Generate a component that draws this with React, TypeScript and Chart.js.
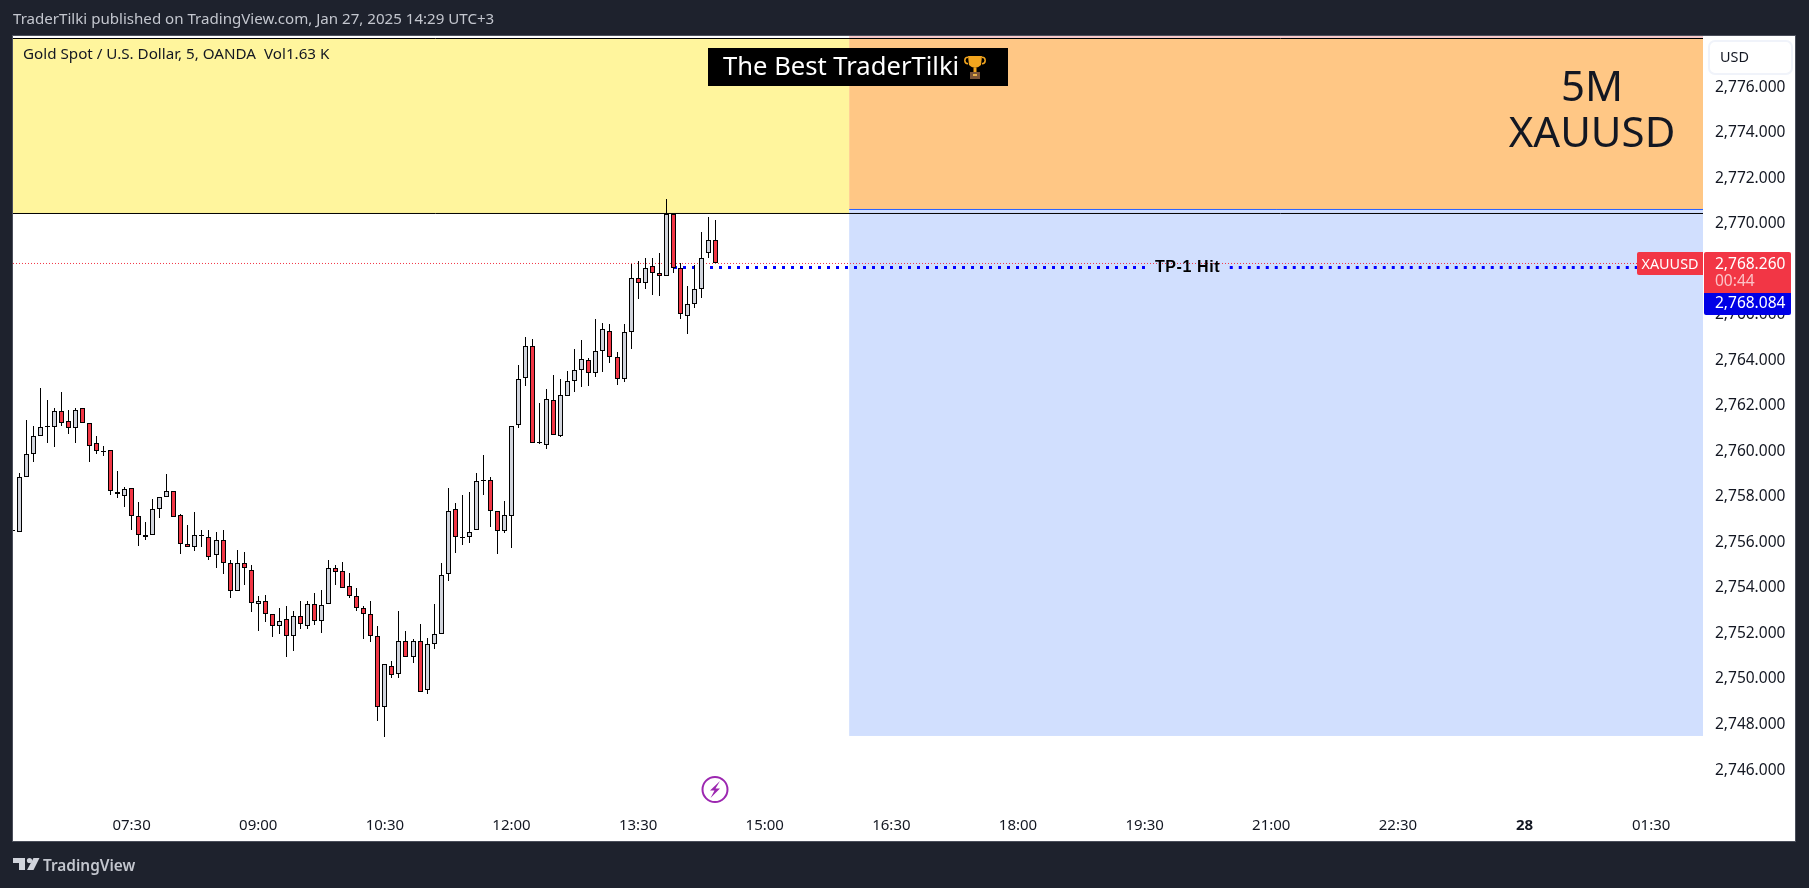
import React, { useEffect, useRef } from "react";
import { Chart, registerables } from "chart.js";

Chart.register(...registerables);

// 5-minute candles, the first one (06:05) is clipped by the left edge of the pane
const opens = [2756.53,
  2756.47,2758.90,2759.91,2760.66,2761.09,2761.09,2761.80,2761.36,2761.05,2761.89,
  2761.23,2760.39,2760.04,2760.08,2758.24,2758.06,2758.41,2757.18,2756.31,2756.31,
  2757.49,2757.98,2758.28,2757.23,2755.95,2755.82,2756.31,2756.26,2755.43,2756.13,
  2755.12,2753.89,2755.12,2754.81,2753.32,2753.45,2752.88,2752.35,2752.62,2751.91,
  2752.79,2752.35,2753.32,2752.53,2753.32,2754.90,2754.77,2754.07,2753.63,2753.14,
  2752.88,2751.91,2748.79,2750.59,2750.24,2751.69,2750.99,2751.69,2749.50,2751.52,
  2752.00,2754.63,2757.49,2756.26,2756.26,2756.56,2758.76,2758.76,2757.40,2756.52,
  2757.18,2761.18,2763.24,2764.65,2760.39,2760.30,2762.27,2760.69,2762.45,2763.11,
  2763.59,2764.03,2763.46,2764.43,2765.31,2764.16,2763.20,2765.27,2767.60,2767.42,
  2768.17,2767.82,2767.69,2770.43,2768.04,2765.97,2766.46,2767.12,2768.70,2769.31];
const closes = [2756.53,
  2758.90,2759.91,2760.70,2761.09,2761.14,2761.80,2761.27,2761.01,2761.84,2761.27,
  2760.26,2760.00,2760.04,2758.28,2758.15,2758.33,2757.18,2756.31,2756.22,2757.49,
  2757.98,2758.28,2757.10,2755.95,2755.82,2756.31,2756.31,2755.38,2756.09,2755.12,
  2753.89,2755.12,2754.86,2753.36,2753.41,2752.88,2752.35,2752.57,2751.91,2752.79,
  2752.44,2753.32,2752.53,2753.27,2754.90,2754.72,2754.02,2753.63,2753.14,2752.88,
  2751.91,2748.79,2750.64,2750.20,2751.69,2750.99,2751.69,2749.45,2751.52,2751.96,
  2754.59,2757.40,2756.26,2756.26,2756.47,2758.72,2758.76,2757.40,2756.52,2757.22,
  2761.13,2763.20,2764.65,2760.39,2760.43,2762.32,2760.74,2762.49,2763.11,2763.59,
  2764.08,2763.46,2764.43,2765.39,2764.16,2763.20,2765.26,2767.60,2767.42,2768.04,
  2767.82,2767.69,2770.43,2768.08,2766.02,2766.50,2767.12,2768.52,2769.31,2768.26];
const highs = [2756.60,
  2759.07,2761.40,2761.14,2762.81,2762.24,2761.89,2762.63,2761.84,2761.93,2761.89,
  2761.27,2760.66,2760.26,2760.08,2759.12,2758.46,2758.41,2757.80,2756.92,2757.93,
  2757.98,2758.99,2758.28,2757.27,2756.79,2757.32,2756.57,2756.57,2756.44,2756.53,
  2755.21,2755.65,2755.60,2755.03,2753.67,2753.71,2752.88,2753.14,2753.19,2752.97,
  2753.45,2753.41,2753.80,2753.93,2755.21,2755.03,2755.16,2754.64,2753.98,2753.23,
  2753.41,2752.31,2750.68,2750.81,2752.97,2752.09,2751.74,2752.40,2751.82,2753.32,
  2755.12,2758.41,2757.75,2758.10,2758.23,2759.07,2759.86,2758.89,2757.40,2757.84,
  2761.13,2763.81,2765.04,2764.95,2762.14,2762.76,2763.37,2763.20,2763.55,2764.52,
  2764.91,2764.12,2765.80,2765.66,2765.61,2764.38,2765.61,2768.23,2768.35,2768.48,
  2768.52,2768.74,2771.11,2770.43,2768.26,2767.29,2768.21,2769.66,2770.32,2770.15];
const lows = [2756.47,
  2756.47,2758.90,2759.54,2760.66,2760.38,2760.20,2761.12,2760.77,2760.38,2761.27,
  2759.54,2759.89,2759.81,2758.09,2757.96,2757.57,2756.55,2755.85,2756.12,2756.31,
  2757.08,2757.98,2757.10,2755.50,2755.82,2755.63,2755.81,2755.24,2754.89,2754.62,
  2753.57,2753.89,2754.15,2752.95,2752.09,2752.51,2751.85,2751.99,2750.98,2751.24,
  2752.21,2752.21,2752.38,2752.03,2753.32,2754.14,2754.02,2753.58,2753.00,2751.77,
  2751.63,2748.16,2747.46,2750.05,2750.05,2750.95,2750.71,2749.41,2749.35,2751.33,
  2752.00,2754.31,2755.55,2755.90,2755.98,2756.56,2758.10,2756.68,2755.51,2756.43,
  2755.77,2761.03,2762.89,2760.39,2760.34,2760.11,2760.74,2760.63,2762.45,2762.61,
  2762.83,2762.89,2763.27,2763.49,2763.90,2762.93,2763.05,2764.52,2766.69,2767.14,
  2766.88,2766.84,2767.69,2767.82,2765.83,2765.17,2766.31,2766.75,2768.51,2768.26];

// Bars are numbered from the 07:30 bar
const firstBar = -17;
const timeTickBars = [0, 18, 36, 54, 72, 90, 108, 126, 144, 162, 180, 198, 216];
const timeLabels = ["07:30", "09:00", "10:30", "12:00", "13:30", "15:00", "16:30", "18:00", "19:30", "21:00", "22:30", "28", "01:30"];
const priceTicks = [2746, 2748, 2750, 2752, 2754, 2756, 2758, 2760, 2762, 2764, 2766, 2768, 2770, 2772, 2774, 2776];

const barMin = -16.86;
const barMax = 223.37;
const priceMin = 2744.115;
const priceMax = 2778.255;

const lastPrice = 2768.26;
const targetPrice = 2768.084;
const zoneTop = 2778.145;
const zoneSplit = 2770.456;
const rewardEdge = 2770.632;
const zoneBottom = 2747.5;
const zoneStartBar = 102;
const targetLineStartBar = 77.1;
const targetGapFrom = 144.05;
const targetGapTo = 156.1;
const targetLineEndBar = 214;

const UI_FONT = '"Noto Sans", sans-serif';
const INK = "#131722";
const RED = "#f23645";

const bodyData = opens.map((o, i) => ({ x: firstBar + i, y: [o, closes[i]] }));
const wickData = lows.map((l, i) => ({ x: firstBar + i, y: [l, highs[i]] }));
const bodyColors = opens.map((o, i) => (closes[i] >= o ? "#d1d4dc" : RED));

function put(ctx: CanvasRenderingContext2D, s: string, x: number, y: number, font: string, color: string, align: CanvasTextAlign = "left", spacing = "0px") {
  ctx.save();
  ctx.font = font;
  ctx.fillStyle = color;
  ctx.textAlign = align;
  ctx.textBaseline = "middle";
  (ctx as any).letterSpacing = spacing;
  ctx.fillText(s, x, y);
  ctx.restore();
}

const snapBars = {
  id: "snapBars",
  afterDatasetUpdate(chart: any, args: any) {
    const meta = chart.getDatasetMeta(args.index);
    if (meta.type !== "bar") return;
    meta.data.forEach((el: any) => {
      el.x = Math.floor(el.x) + 0.5;
      el.y = Math.round(el.y);
      el.base = Math.round(el.base);
      if (el.y === el.base) el.base = el.y + 1;
    });
  },
};

const decor = {
  id: "decor",
  beforeDraw(chart: any) {
    const { ctx, width, height } = chart;
    ctx.save();
    ctx.fillStyle = "#1e222d";
    ctx.fillRect(0, 0, width, height);
    ctx.fillStyle = "#4a4e5a";
    ctx.fillRect(12, 35, 1784, 807);
    ctx.fillStyle = "#ffffff";
    ctx.fillRect(13, 36, 1782, 805);
    ctx.restore();
    put(ctx, "TraderTilki published on TradingView.com, Jan 27, 2025 14:29 UTC+3", 13, 20, `15.1px ${UI_FONT}`, "#c3c6ce");
  },
  beforeDatasetsDraw(chart: any) {
    const { ctx, scales: { x, y } } = chart;
    const zone = (a: number, b: number, top: number, bottom: number, color: string) => {
      ctx.fillStyle = color;
      ctx.fillRect(x.getPixelForValue(a), y.getPixelForValue(top), x.getPixelForValue(b) - x.getPixelForValue(a), y.getPixelForValue(bottom) - y.getPixelForValue(top));
    };
    ctx.save();
    zone(barMin, zoneStartBar, zoneTop, zoneSplit, "#fff59d");
    zone(zoneStartBar, barMax, priceMax, zoneTop, "#f7c9c9");
    zone(zoneStartBar, barMax, zoneTop, rewardEdge, "#ffc785");
    zone(zoneStartBar, barMax, rewardEdge, zoneBottom, "#d1dffe");
    ctx.restore();
  },
  afterDraw(chart: any) {
    const { ctx } = chart;
    ctx.save();
    // legend line
    put(ctx, "Gold Spot / U.S. Dollar, 5, OANDA  Vol1.63 K", 23, 55, `15.2px ${UI_FONT}`, INK);
    // banner
    ctx.fillStyle = "#000000";
    ctx.fillRect(708, 48, 300, 38);
    put(ctx, "The Best TraderTilki", 723, 68, `25.6px ${UI_FONT}`, "#ffffff");
    // trophy
    ctx.fillStyle = "#f2a51e";
    ctx.beginPath();
    ctx.moveTo(968, 56);
    ctx.lineTo(982, 56);
    ctx.lineTo(981, 65);
    ctx.quadraticCurveTo(975, 71, 969, 65);
    ctx.closePath();
    ctx.fill();
    ctx.strokeStyle = "#f2a51e";
    ctx.lineWidth = 1.5;
    ctx.beginPath();
    ctx.arc(968, 60.5, 3.2, 0.5 * Math.PI, 1.5 * Math.PI);
    ctx.stroke();
    ctx.beginPath();
    ctx.arc(982, 60.5, 3.2, -0.5 * Math.PI, 0.5 * Math.PI);
    ctx.stroke();
    ctx.fillRect(973.5, 68, 3, 4);
    ctx.fillStyle = "#7c5538";
    ctx.fillRect(970, 72, 10, 7);
    ctx.fillStyle = "#e8b24a";
    ctx.fillRect(973, 74, 4, 2);
    // big caption
    put(ctx, "5M", 1592, 89.5, `42px ${UI_FONT}`, "#131722", "center");
    put(ctx, "XAUUSD", 1592, 135, `42px ${UI_FONT}`, "#131722", "center");
    // target label
    put(ctx, "TP-1 Hit", 1187.5, 268, `600 16px "Liberation Sans", sans-serif`, "#000000", "center", "0.6px");
    // currency button
    ctx.fillStyle = "#ffffff";
    ctx.strokeStyle = "#f0f3fa";
    ctx.lineWidth = 2;
    ctx.beginPath();
    ctx.roundRect(1709, 41, 83, 33, 6);
    ctx.fill();
    ctx.stroke();
    put(ctx, "USD", 1720, 58, `14.4px ${UI_FONT}`, INK);
    // price tags
    ctx.fillStyle = RED;
    ctx.beginPath();
    ctx.roundRect(1637, 252, 66, 23, [2, 0, 0, 2]);
    ctx.fill();
    ctx.beginPath();
    ctx.roundRect(1704, 252, 87, 41, [2, 2, 0, 0]);
    ctx.fill();
    ctx.fillStyle = "#0000e6";
    ctx.beginPath();
    ctx.roundRect(1704, 293, 87, 22, [0, 0, 2, 2]);
    ctx.fill();
    put(ctx, "XAUUSD", 1670, 264.5, `14.4px ${UI_FONT}`, "#ffffff", "center");
    put(ctx, "2,768.260", 1715, 264.5, `15.5px ${UI_FONT}`, "#ffffff");
    put(ctx, "00:44", 1715, 281.5, `15.5px ${UI_FONT}`, "rgba(255,255,255,0.7)");
    put(ctx, "2,768.084", 1715, 304, `15.5px ${UI_FONT}`, "#ffffff");
    // flash marker
    ctx.strokeStyle = "#9c27b0";
    ctx.lineWidth = 2;
    ctx.beginPath();
    ctx.arc(715, 789.5, 12.5, 0, 2 * Math.PI);
    ctx.stroke();
    ctx.fillStyle = "#9c27b0";
    ctx.beginPath();
    ctx.moveTo(720, 781);
    ctx.lineTo(710, 790.5);
    ctx.lineTo(714.5, 790.5);
    ctx.lineTo(710.5, 798);
    ctx.lineTo(720, 788.5);
    ctx.lineTo(715.5, 788.5);
    ctx.closePath();
    ctx.fill();
    // brand
    ctx.fillStyle = "#d1d4dc";
    ctx.fillRect(13, 858, 12, 5);
    ctx.fillRect(19, 858, 6, 12);
    ctx.beginPath();
    ctx.arc(29.5, 860.5, 2.6, 0, 2 * Math.PI);
    ctx.fill();
    ctx.beginPath();
    ctx.moveTo(33.5, 858);
    ctx.lineTo(39.5, 858);
    ctx.lineTo(33.5, 870);
    ctx.lineTo(27, 870);
    ctx.closePath();
    ctx.fill();
    put(ctx, "TradingView", 43, 866.5, `600 15.4px ${UI_FONT}`, "#c3c6ce");
    ctx.restore();
  },
};

export default function App() {
  const ref = useRef<HTMLCanvasElement>(null);
  useEffect(() => {
    const chart = new Chart(ref.current!, {
      type: "bar",
      plugins: [snapBars, decor],
      data: {
        datasets: [
          { type: "bar", label: "Body", order: 0, data: bodyData as any, backgroundColor: bodyColors, borderColor: "#000000", borderWidth: 1, borderSkipped: false, barThickness: 5, grouped: false, inflateAmount: 0 },
          { type: "bar", label: "Wick", order: 1, data: wickData as any, backgroundColor: "#000000", borderWidth: 0, barThickness: 1, grouped: false, inflateAmount: 0 },
          { type: "line", label: "Target", order: 2, data: [{ x: targetLineStartBar, y: targetPrice }, { x: targetGapFrom, y: targetPrice }, { x: targetGapFrom, y: null }, { x: targetGapTo, y: targetPrice }, { x: targetLineEndBar, y: targetPrice }] as any, borderColor: "#0000ff", borderWidth: 3, borderDash: [3, 6], pointRadius: 0, spanGaps: false },
          { type: "line", label: "Last", order: 3, data: [{ x: barMin, y: lastPrice }, { x: barMax, y: lastPrice }] as any, borderColor: RED, borderWidth: 1, borderDash: [1, 2], pointRadius: 0 },
          { type: "line", label: "Split", order: 4, data: [{ x: barMin, y: zoneSplit }, { x: barMax, y: zoneSplit }] as any, borderColor: "#000000", borderWidth: 1, pointRadius: 0 },
          { type: "line", label: "Top", order: 5, data: [{ x: barMin, y: zoneTop }, { x: barMax, y: zoneTop }] as any, borderColor: "#000000", borderWidth: 1, pointRadius: 0 },
          { type: "line", label: "Reward", order: 6, data: [{ x: zoneStartBar, y: rewardEdge }, { x: barMax, y: rewardEdge }] as any, borderColor: "#2962ff", borderWidth: 1, pointRadius: 0 },
        ],
      },
      options: {
        responsive: false,
        animation: false,
        events: [],
        layout: { padding: { left: 13, right: 14, top: 36, bottom: 47 } },
        plugins: { legend: { display: false }, tooltip: { enabled: false }, title: { display: false } },
        scales: {
          x: {
            type: "linear",
            offset: false,
            min: barMin,
            max: barMax,
            grid: { display: false, drawTicks: false },
            border: { display: false },
            afterBuildTicks: (s: any) => { s.ticks = timeTickBars.map((value) => ({ value })); },
            afterFit: (s: any) => { s.height = 28; },
            ticks: {
              autoSkip: false,
              maxRotation: 0,
              padding: 4,
              color: INK,
              callback: (_v: any, i: number) => timeLabels[i],
              font: (c: any) => ({ family: UI_FONT, size: 15, weight: timeLabels[c.index] === "28" ? "bold" : "normal" }),
            },
          },
          y: {
            position: "right",
            min: priceMin,
            max: priceMax,
            grid: { display: false, drawTicks: false },
            border: { display: false },
            afterBuildTicks: (s: any) => { s.ticks = priceTicks.map((value) => ({ value })); },
            afterFit: (s: any) => { s.width = 92; },
            ticks: {
              autoSkip: false,
              padding: 12,
              color: INK,
              font: { family: UI_FONT, size: 15.5 },
              callback: (v: any) => Number(v).toLocaleString("en-US", { minimumFractionDigits: 3, maximumFractionDigits: 3 }),
            },
          },
        },
      },
    } as any);
    return () => chart.destroy();
  }, []);
  return (
    <div style={{ position: "fixed", left: 0, top: 0, width: 1809, height: 888, background: "#1e222d" }}>
      <canvas ref={ref} width={1809} height={888} style={{ display: "block" }} />
    </div>
  );
}
